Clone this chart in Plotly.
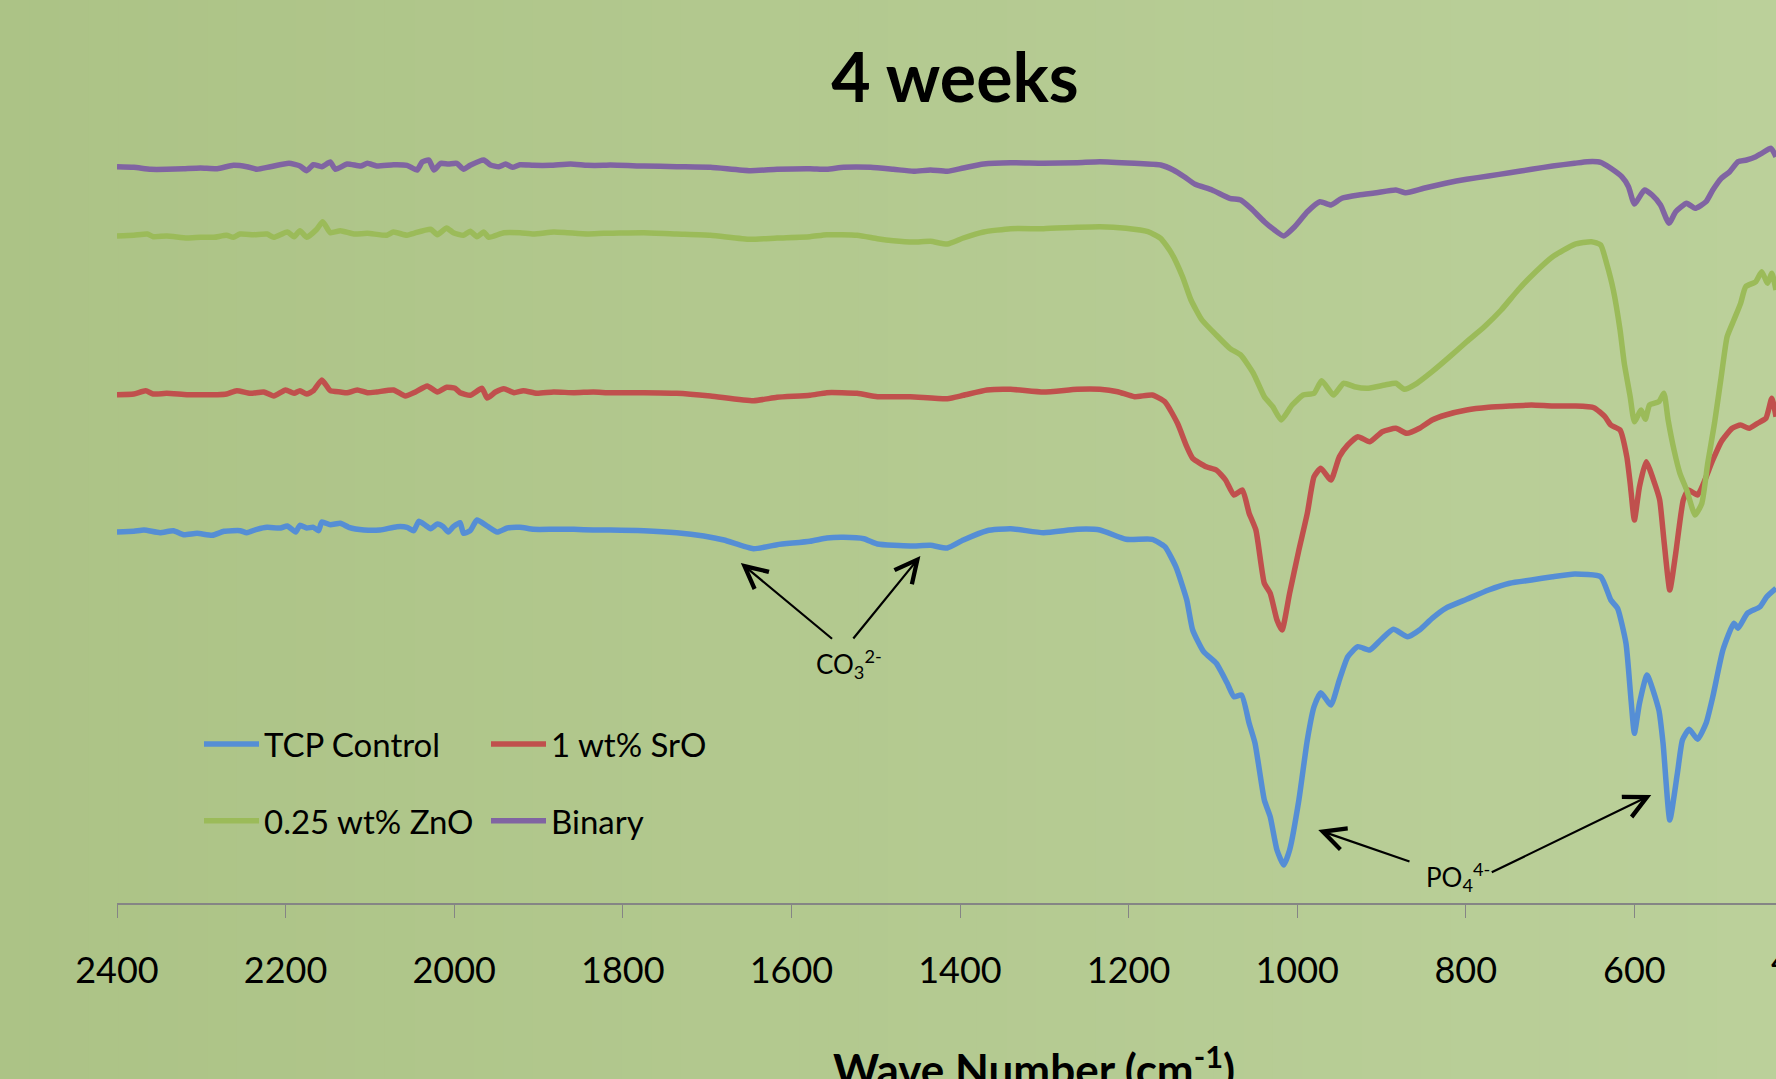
import plotly.graph_objects as go

# ---------------- data ----------------
wn_tcp = [2400, 2380, 2368, 2349, 2333, 2321, 2305, 2287, 2273, 2254, 2246, 2234, 2222, 2206, 2198, 2188, 2183, 2175, 2167, 2161, 2157, 2147, 2135, 2125, 2107, 2088, 2068, 2056, 2048, 2042, 2034, 2028, 2020, 2013, 2007, 2001, 1993, 1989, 1981, 1973, 1961, 1949, 1937, 1922, 1906, 1882, 1858, 1835,
          1815, 1775, 1736, 1704, 1680, 1645, 1617, 1578, 1558, 1538, 1514, 1498, 1459, 1435, 1415, 1396, 1368, 1340, 1301, 1261,
          1234, 1203, 1172, 1157, 1144, 1131, 1124, 1111, 1096, 1083, 1075, 1066, 1057, 1050, 1039, 1032, 1024, 1016, 1009, 998, 988, 980, 972, 960, 950, 940, 928, 914, 901, 886, 869, 855, 840, 824, 799, 773, 748, 722, 697, 671, 640, 628, 620, 610, 604, 600, 594, 585, 571, 566, 558, 549, 543, 535, 525, 515, 507, 495, 482, 477, 466, 451, 443, 432]
t_tcp = [46.80, 46.87, 47.00, 46.73, 46.93, 46.53, 46.67, 46.47, 46.87, 46.93, 46.73, 47.07, 47.27, 47.20, 47.40, 46.80, 47.47, 47.20, 47.27, 46.93, 47.80, 47.53, 47.67, 47.27, 47.00, 47.00, 47.33, 47.27, 46.93, 47.87, 47.47, 47.13, 47.60, 47.33, 46.80, 47.33, 47.73, 46.67, 46.93, 48.00, 47.40, 46.80, 47.20, 47.27, 47.07, 47.07, 47.07, 47.00,
         47.00, 46.93, 46.73, 46.40, 46.00, 45.13, 45.53, 45.87, 46.20, 46.27, 46.13, 45.60, 45.40, 45.47, 45.20, 46.00, 46.93, 47.13, 46.73, 47.07,
         47.00, 46.07, 46.07, 45.33, 43.33, 40.00, 37.00, 34.83, 33.67, 31.67, 30.33, 30.50, 27.67, 25.67, 20.00, 18.33, 15.00, 13.50, 15.00, 20.00, 26.00, 29.33, 30.73, 29.50, 32.00, 34.33, 35.33, 35.00, 36.00, 37.07, 36.33, 37.00, 38.17, 39.17, 40.07, 41.00, 41.67, 42.00, 42.33, 42.60, 42.33, 40.00, 39.17, 35.67, 30.00, 26.67, 29.67, 32.50, 29.00, 25.67, 18.00, 22.67, 26.00, 27.07, 26.07, 27.67, 30.33, 35.00, 37.67, 37.17, 38.67, 39.33, 40.33, 41.17]

wn_sro = [2400, 2380, 2366, 2357, 2341, 2317, 2301, 2281, 2270, 2258, 2242, 2226, 2214, 2200, 2190, 2183, 2175, 2167, 2157, 2147, 2135, 2127, 2115, 2103, 2092, 2072, 2058, 2046, 2032, 2020, 2009, 1999, 1993, 1981, 1967, 1961, 1951, 1941, 1929, 1918, 1902, 1882, 1858, 1835, 1819,
          1815, 1775, 1736, 1696, 1645, 1617, 1578, 1558, 1522, 1498, 1459, 1415, 1396, 1368, 1340, 1301, 1261,
          1234, 1213, 1193, 1172, 1157, 1142, 1131, 1124, 1108, 1096, 1085, 1075, 1065, 1057, 1049, 1039, 1032, 1024, 1018, 1009, 998, 988, 980, 972, 960, 950, 940, 928, 914, 899, 883, 870, 855, 840, 824, 799, 773, 748, 722, 697, 671, 648, 635, 628, 617, 609, 605, 600, 594, 586, 576, 570, 565, 558, 551, 542, 536, 525, 518, 507, 497, 484, 474, 464, 454, 444, 437, 432]
t_sro = [60.53, 60.60, 60.93, 60.60, 60.67, 60.53, 60.53, 60.53, 60.60, 60.93, 60.67, 60.80, 60.40, 61.00, 60.67, 60.93, 60.60, 60.93, 62.00, 60.93, 60.80, 60.73, 61.00, 60.73, 60.80, 61.00, 60.40, 60.80, 61.40, 60.80, 61.27, 61.17, 60.73, 60.47, 61.17, 60.20, 60.80, 61.13, 60.73, 60.93, 60.67, 60.80, 60.73, 60.80, 60.73,
         60.73, 60.73, 60.67, 60.40, 59.93, 60.27, 60.47, 60.73, 60.67, 60.33, 60.33, 60.13, 60.47, 61.00, 61.07, 60.80, 61.07,
         61.07, 60.83, 60.33, 60.50, 59.83, 57.67, 55.33, 54.17, 53.33, 53.00, 52.00, 50.50, 51.00, 48.67, 47.00, 41.67, 40.67, 38.00, 37.00, 40.67, 45.00, 48.67, 52.33, 53.17, 52.00, 54.33, 55.50, 56.33, 55.83, 56.83, 57.17, 56.67, 57.17, 58.00, 58.50, 59.00, 59.27, 59.40, 59.50, 59.40, 59.40, 59.23, 58.33, 57.50, 57.00, 54.33, 51.67, 48.00, 51.33, 53.83, 51.67, 50.00, 46.00, 41.00, 44.67, 50.00, 51.00, 50.50, 51.67, 54.00, 55.83, 57.17, 57.50, 57.17, 57.67, 58.17, 60.17, 58.33]

wn_zno = [2400, 2380, 2364, 2357, 2341, 2317, 2301, 2285, 2270, 2262, 2254, 2238, 2222, 2214, 2198, 2190, 2183, 2175, 2163, 2156, 2147, 2135, 2119, 2103, 2080, 2072, 2056, 2048, 2028, 2020, 2009, 2001, 1989, 1981, 1973, 1965, 1959, 1941, 1922, 1906, 1882, 1866, 1842, 1823,
          1815, 1775, 1736, 1696, 1649, 1617, 1578, 1558, 1522, 1498, 1479, 1455, 1435, 1415, 1396, 1372, 1340, 1301, 1261,
          1234, 1203, 1177, 1162, 1149, 1136, 1126, 1113, 1096, 1080, 1067, 1052, 1039, 1029, 1019, 1006, 993, 980, 971, 957, 945, 932, 917, 896, 883, 873, 858, 840, 819, 799, 778, 758, 738, 717, 697, 671, 651, 640, 633, 625, 617, 612, 605, 600, 592, 587, 582, 571, 565, 560, 553, 546, 538, 528, 520, 513, 505, 497, 490, 482, 474, 468, 456, 449, 442, 437, 432]
t_zno = [76.40, 76.47, 76.60, 76.33, 76.40, 76.20, 76.27, 76.27, 76.47, 76.27, 76.60, 76.53, 76.60, 76.27, 76.80, 76.33, 76.93, 76.27, 77.07, 77.83, 76.73, 76.93, 76.60, 76.67, 76.47, 76.80, 76.47, 76.67, 77.07, 76.53, 77.20, 76.73, 76.47, 76.87, 76.33, 76.80, 76.27, 76.73, 76.73, 76.60, 76.80, 76.73, 76.60, 76.67,
         76.67, 76.73, 76.60, 76.47, 76.07, 76.20, 76.33, 76.53, 76.47, 76.13, 75.93, 75.80, 75.87, 75.60, 76.20, 76.80, 77.13, 77.13, 77.27,
         77.33, 77.17, 76.83, 76.17, 74.67, 72.33, 70.00, 68.00, 66.50, 65.17, 64.50, 62.67, 60.33, 59.33, 58.00, 59.50, 60.50, 60.67, 61.93, 60.50, 61.67, 61.33, 61.17, 61.50, 61.67, 61.07, 61.67, 62.83, 64.33, 65.83, 67.33, 69.00, 71.00, 72.83, 74.33, 75.57, 75.83, 75.50, 73.67, 71.00, 67.00, 63.67, 60.33, 57.83, 59.00, 58.07, 59.50, 59.83, 60.67, 58.00, 55.00, 52.67, 51.00, 48.50, 49.67, 53.67, 57.67, 62.33, 66.33, 68.00, 69.67, 71.33, 71.83, 72.83, 71.67, 72.67, 71.00]

wn_bin = [2400, 2380, 2360, 2341, 2321, 2301, 2281, 2262, 2246, 2234, 2218, 2196, 2183, 2175, 2167, 2157, 2147, 2141, 2127, 2111, 2103, 2092, 2072, 2056, 2044, 2038, 2030, 2024, 2016, 2007, 1997, 1989, 1981, 1965, 1957, 1947, 1939, 1931, 1922, 1906, 1886, 1862, 1842, 1823,
          1815, 1775, 1736, 1696, 1649, 1617, 1578, 1558, 1538, 1506, 1479, 1455, 1435, 1415, 1396, 1372, 1340, 1301, 1261,
          1234, 1193, 1162, 1147, 1134, 1121, 1101, 1080, 1067, 1055, 1039, 1027, 1016, 1003, 988, 973, 960, 947, 927, 906, 883, 871, 850, 824, 799, 773, 748, 722, 697, 671, 656, 640, 628, 615, 607, 600, 588, 579, 569, 559, 551, 538, 528, 515, 507, 497, 487, 477, 467, 456, 449, 438, 432]
t_bin = [83.33, 83.27, 83.07, 83.07, 83.13, 83.20, 83.13, 83.47, 83.33, 83.07, 83.33, 83.67, 83.40, 82.93, 83.53, 83.33, 83.80, 83.07, 83.60, 83.40, 83.67, 83.40, 83.53, 83.47, 83.00, 83.80, 84.00, 83.00, 83.67, 83.60, 83.67, 83.07, 83.47, 84.00, 83.50, 83.33, 83.60, 83.27, 83.53, 83.47, 83.47, 83.60, 83.47, 83.47,
         83.50, 83.40, 83.33, 83.27, 82.93, 83.07, 83.13, 83.07, 83.27, 83.27, 83.07, 82.87, 83.00, 82.87, 83.20, 83.60, 83.73, 83.67, 83.73,
         83.83, 83.67, 83.50, 83.00, 82.33, 81.57, 81.00, 80.17, 80.00, 79.17, 77.83, 77.00, 76.40, 77.33, 78.83, 79.83, 79.50, 80.17, 80.50, 80.73, 81.00, 80.73, 81.17, 81.67, 82.07, 82.40, 82.73, 83.07, 83.40, 83.67, 83.83, 83.77, 83.17, 82.33, 81.33, 79.60, 81.00, 80.50, 79.50, 77.67, 78.83, 79.67, 79.17, 79.83, 81.00, 82.17, 82.83, 83.83, 84.00, 84.33, 84.67, 85.17, 84.33]

series_names = ["TCP Control", "1 wt% SrO", "0.25 wt% ZnO", "Binary"]
series_wn = [wn_tcp, wn_sro, wn_zno, wn_bin]
series_t = [t_tcp, t_sro, t_zno, t_bin]
series_colors = ["#558ED5", "#C0504D", "#9BBB59", "#8064A2"]
series_legend = ["legend", "legend2", "legend", "legend2"]

tick_values = [2400, 2200, 2000, 1800, 1600, 1400, 1200, 1000, 800, 600]
tick_labels = ["2400", "2200", "2000", "1800", "1600", "1400", "1200", "1000", "800", "600"]

title_text = "4 weeks"
x_title = "Wave Number (cm<sup>-1</sup>)"

# ---------------- figure ----------------
W, H = 1776, 1079
ML, MR, MT, MB = 117, 0, 130, 176
FONT = "Lato"

fig = go.Figure()
for i, name in enumerate(series_names):
    fig.add_trace(go.Scatter(
        x=series_wn[i], y=series_t[i], mode="lines", name=name,
        line=dict(color=series_colors[i], width=5.5, shape="spline", smoothing=0.5),
        legend=series_legend[i], legendgroup=name,
        hoverinfo="skip",
    ))

# background gradient (left to right)
c0 = (172, 195, 134)
c1 = (187, 208, 154)
nstrip = 60
pw = W - ML - MR
ph = H - MT - MB
x_left = -ML / pw
x_right = (W - ML) / pw
shapes = []
for k in range(nstrip):
    f = k / (nstrip - 1)
    col = "rgb(%d,%d,%d)" % tuple(round(c0[j] + (c1[j] - c0[j]) * f) for j in range(3))
    xa = x_left + (x_right - x_left) * k / nstrip
    xb = x_left + (x_right - x_left) * (k + 1) / nstrip + 0.001
    shapes.append(dict(type="rect", xref="paper", yref="paper", x0=xa, x1=xb,
                       y0=-MB / ph - 0.01, y1=(ph + MT) / ph + 0.01,
                       line=dict(width=0), fillcolor=col, layer="below"))

def arrow(xh, yh, xt, yt):
    return dict(x=xh, y=yh, ax=xt, ay=yt, xref="x", yref="y", axref="x", ayref="y",
                text="", showarrow=True, arrowhead=5, arrowsize=2.0, arrowwidth=2.2,
                arrowcolor="black", standoff=0, startstandoff=0)

annotations = [
    dict(x=1532, y=33.6, xref="x", yref="y", text="CO<sub>3</sub><sup>2-</sup>",
         showarrow=False, font=dict(family=FONT, size=26, color="black")),
    arrow(1660, 43.7, 1550, 36.0),
    arrow(1447, 44.4, 1528, 36.0),
    dict(x=809, y=12.3, xref="x", yref="y", text="PO<sub>4</sub><sup>4-</sup>",
         showarrow=False, font=dict(family=FONT, size=26, color="black")),
    arrow(975, 17.0, 865, 13.8),
    arrow(580, 20.5, 771, 12.7),
    dict(x=(1034 - ML) / pw, y=(903 - 1066) / ph, xref="paper", yref="paper", text=x_title,
         showarrow=False, xanchor="center", yanchor="middle",
         font=dict(family=FONT, size=44, color="black", weight="bold")),
    dict(x=(1803 - ML) / pw, y=(903 - 960) / ph, xref="paper", yref="paper", text="400",
         showarrow=False, xanchor="center", yanchor="middle",
         font=dict(family=FONT, size=36, color="black")),
]

fig.update_layout(
    width=W, height=H,
    margin=dict(l=ML, r=MR, t=MT, b=MB, pad=0),
    paper_bgcolor="rgb(172,195,134)",
    plot_bgcolor="rgba(0,0,0,0)",
    shapes=shapes,
    annotations=annotations,
    title=dict(text=title_text, x=955 / W, xanchor="center", xref="container",
               y=1 - 78 / H, yanchor="middle", yref="container",
               font=dict(family=FONT, size=68, color="black", weight="bold")),
    xaxis=dict(range=[2400, 2400 - pw / 0.843], tickmode="array",
               tickvals=tick_values, ticktext=tick_labels,
               showgrid=False, zeroline=False, showline=True, linecolor="#858585", linewidth=2,
               ticks="outside", ticklen=13, tickwidth=1.2, tickcolor="#858585",
               ticklabelstandoff=22,
               tickfont=dict(family=FONT, size=36, color="black")),
    yaxis=dict(range=[100 - 90.3, 100 - MT / 10], visible=False, showgrid=False, zeroline=False),
    legend=dict(x=(199 - ML) / pw, y=(903 - 716) / ph, xanchor="left", yanchor="top",
                bgcolor="rgba(0,0,0,0)", itemwidth=55, tracegroupgap=31,
                font=dict(family=FONT, size=33, color="black")),
    legend2=dict(x=(486 - ML) / pw, y=(903 - 716) / ph, xanchor="left", yanchor="top",
                 bgcolor="rgba(0,0,0,0)", itemwidth=55, tracegroupgap=31,
                 font=dict(family=FONT, size=33, color="black")),
    showlegend=True,
)

fig.write_html("out.html", config={"displayModeBar": False},
               post_script="document.body.style.margin='0';document.body.style.overflow='hidden';")
